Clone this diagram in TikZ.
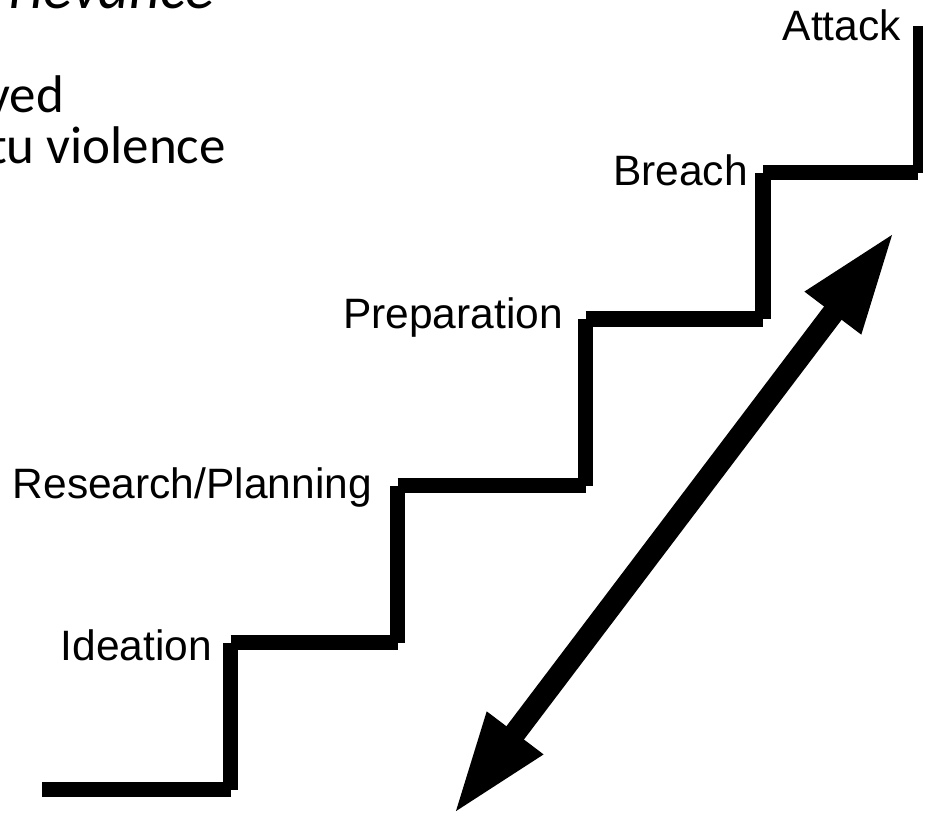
\documentclass[tikz,border=0pt]{standalone}
\usepackage{fontspec}
\setmainfont{Liberation Sans}
\newfontfamily\notefont{Carlito}
\usetikzlibrary{arrows.meta}

\tikzset{
  stair/.style={line width=15.5pt, line cap=butt},
  steplabel/.style={anchor=base east, inner sep=0pt,
    font=\fontsize{42.5}{49}\selectfont},
  notetext/.style={anchor=base east, inner sep=0pt,
    font=\notefont\fontsize{53}{61}\selectfont},
  bigarrow/.style={line width=22pt,
    {Triangle[length=103pt,width=64pt]}-{Triangle[length=103pt,width=64pt]}}
}

\begin{document}
\begin{tikzpicture}[x=1pt,y=-1pt]
  \useasboundingbox (0,0) rectangle (925,816);
  \clip (0,0) rectangle (925,816);

  % notes running off the upper left edge
  \node[notetext, font=\notefont\itshape\fontsize{60}{68}\selectfont] (n0) at (214,9) {rievance};
  \node[notetext] (n1) at (64,112) {ved};
  \node[notetext] (n2) at (226,163) {tu violence};

  % corners of the staircase
  \coordinate (p0) at (42,789.5);
  \coordinate (p1) at (230.5,789.5);
  \coordinate (p2) at (230.5,642.5);
  \coordinate (p3) at (397.5,642.5);
  \coordinate (p4) at (397.5,485.5);
  \coordinate (p5) at (585.5,485.5);
  \coordinate (p6) at (585.5,319);
  \coordinate (p7) at (763,319);
  \coordinate (p8) at (763,172.5);
  \coordinate (p9) at (918,172.5);
  \coordinate (p10) at (918,26);

  % each tread and riser is its own segment
  \draw[stair] (p0) -- (p1);
  \draw[stair] (p1) -- (p2);
  \draw[stair] (p2) -- (p3);
  \draw[stair] (p3) -- (p4);
  \draw[stair] (p4) -- (p5);
  \draw[stair] (p5) -- (p6);
  \draw[stair] (p6) -- (p7);
  \draw[stair] (p7) -- (p8);
  \draw[stair] (p8) -- (p9);
  \draw[stair, line width=10pt] (p9) -- (p10);

  % stage names
  \node[steplabel] (ideation) at (212,660) {Ideation};
  \node[steplabel] (research) at (372,498) {Research/Planning};
  \node[steplabel] (prep) at (563,328) {Preparation};
  \node[steplabel] (breach) at (748,185) {Breach};
  \node[steplabel] (attack) at (901,41) {Attack};

  % two-way arrow beside the staircase
  \coordinate (alow) at (453,815);
  \coordinate (ahigh) at (895,231);
  \draw[bigarrow] (alow) -- (ahigh);
\end{tikzpicture}
\end{document}
